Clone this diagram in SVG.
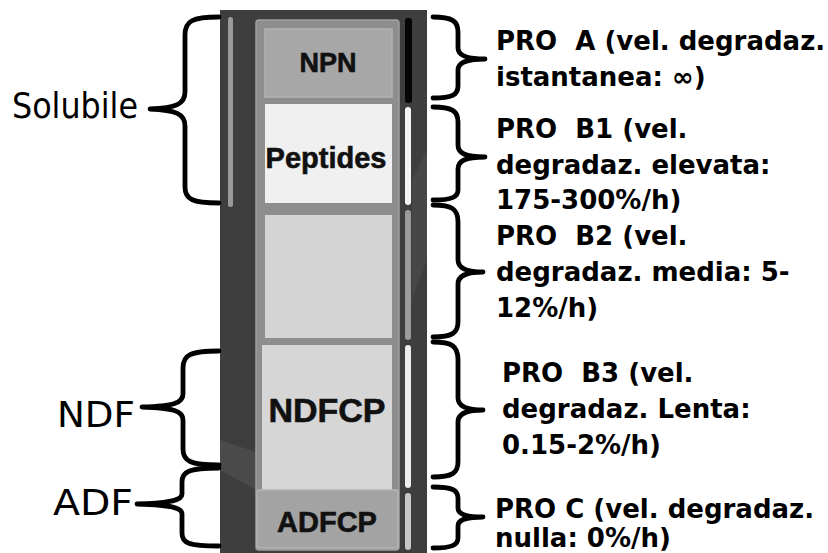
<svg xmlns="http://www.w3.org/2000/svg" width="828" height="553" viewBox="0 0 828 553">
<style>
.brace{fill:none;stroke:#000;stroke-width:4.8;stroke-linecap:round;stroke-linejoin:round}
.lbl{font-family:"DejaVu Sans",Verdana,sans-serif;font-size:35px;fill:#000}
.rt{font-family:"DejaVu Sans","Verdana",sans-serif;font-weight:bold;font-size:26px;fill:#000;white-space:pre}
.bx{font-family:"Liberation Sans",Arial,sans-serif;font-weight:bold;fill:#111;stroke:#111;stroke-width:0.6;text-anchor:middle}
</style>
<rect width="828" height="553" fill="#fff"/>
<g id="column">
<rect x="220" y="10" width="207" height="543" fill="#3e3e3e"/>
<polygon points="220,440 256,452 256,490 220,470" fill="#4a4a4a"/>
<polygon points="412,180 427,150 427,260 412,300" fill="#474747"/>
<rect x="228" y="17" width="5" height="190" rx="2.5" fill="#9a9a9a"/>
<rect x="256" y="20" width="143" height="530" rx="3" fill="#8e8e8e" stroke="#a0a0a0" stroke-width="1.5"/>
<rect x="405" y="18" width="7" height="85" rx="3" fill="#050505"/>
<rect x="405" y="107" width="6" height="98" rx="3" fill="#f4f4f4"/>
<rect x="405" y="210" width="6" height="130" rx="3" fill="#9c9c9c"/>
<rect x="405" y="345" width="6" height="143" rx="3" fill="#ececec"/>
<rect x="405" y="493" width="6" height="57" rx="3" fill="#c8c8c8"/>
</g>
<g id="npn">
<rect x="265" y="29" width="127" height="68" fill="#a7a7a7" stroke="#b2b2b2" stroke-width="1.5"/>
<text class="bx" x="328" y="72" font-size="27">NPN</text>
</g>
<g id="peptides">
<rect x="265" y="104" width="127" height="99" fill="#f0f0f0"/>
<text class="bx" x="326" y="168" font-size="29">Peptides</text>
</g>
<g id="b2box">
<rect x="265" y="215" width="127" height="123" fill="#d4d4d4"/>
</g>
<g id="ndfcp">
<rect x="262" y="345" width="130" height="145" fill="#d6d6d6"/>
<text class="bx" x="327" y="422" font-size="34">NDFCP</text>
</g>
<g id="adfcp">
<rect x="257" y="490" width="141" height="58" rx="2" fill="#a3a3a3" stroke="#b4b4b4" stroke-width="1.5"/>
<text class="bx" x="327" y="532" font-size="29">ADFCP</text>
</g>
<g id="labels-left">
<text class="lbl" x="12" y="118" font-size="34" textLength="126" lengthAdjust="spacingAndGlyphs">Solubile</text>
<text class="lbl" x="57" y="427" font-size="38" textLength="78" lengthAdjust="spacingAndGlyphs">NDF</text>
<text class="lbl" x="53" y="515" font-size="38" textLength="80" lengthAdjust="spacingAndGlyphs">ADF</text>
</g>
<g id="connectors">
<path class="brace" d="M219,17 C192,17 185,21 185,35 L185,92 C185,104 176,108 150,109 C176,110 185,114 185,126 L185,187 C185,199 192,203 219,203"/>
<path class="brace" d="M219,351 C190,351 183,355 183,368 L183,394 C183,403 174,406 142,407 C174,408 183,411 183,420 L183,449 C183,461 190,465 219,465"/>
<path class="brace" d="M219,468 C188,468 182,472 182,482 L182,494 C182,500 172,503 137,504 C172,505 182,508 182,514 L182,533 C182,543 188,546 219,546"/>
<path class="brace" d="M433,17 C452,17 458,21 458,32 L458,48 C458,55 465,59 485,59 C465,59 458,63 458,70 L458,86 C458,95 452,98 433,98"/>
<path class="brace" d="M433,107 C452,107 458,111 458,122 L458,145 C458,153 465,157 485,157 C465,157 458,161 458,169 L458,190 C458,197 452,200 433,200"/>
<path class="brace" d="M433,205 C452,205 458,209 458,222 L458,260 C458,268 465,272 483,272 C465,272 458,276 458,284 L458,322 C458,333 452,337 433,337"/>
<path class="brace" d="M433,342 C452,342 458,346 458,360 L458,398 C458,406 465,410 483,410 C465,410 458,414 458,422 L458,462 C458,473 452,477 433,477"/>
<path class="brace" d="M433,487 C452,487 458,490 458,498 L458,508 C458,514 465,517 483,517 C465,517 458,520 458,526 L458,538 C458,545 452,548 433,548"/>
</g>
<g id="labels-right">
<text class="rt" x="496" y="50" xml:space="preserve">PRO  A (vel. degradaz.</text>
<text class="rt" x="496" y="86">istantanea: ∞)</text>
<text class="rt" x="496" y="138" xml:space="preserve">PRO  B1 (vel.</text>
<text class="rt" x="496" y="174">degradaz. elevata:</text>
<text class="rt" x="496" y="209">175-300%/h)</text>
<text class="rt" x="496" y="245" xml:space="preserve">PRO  B2 (vel.</text>
<text class="rt" x="496" y="281">degradaz. media: 5-</text>
<text class="rt" x="496" y="317">12%/h)</text>
<text class="rt" x="502" y="382" xml:space="preserve">PRO  B3 (vel.</text>
<text class="rt" x="502" y="418">degradaz. Lenta:</text>
<text class="rt" x="502" y="454">0.15-2%/h)</text>
<text class="rt" x="495" y="518">PRO C (vel. degradaz.</text>
<text class="rt" x="495" y="547">nulla: 0%/h)</text>
</g>
</svg>
